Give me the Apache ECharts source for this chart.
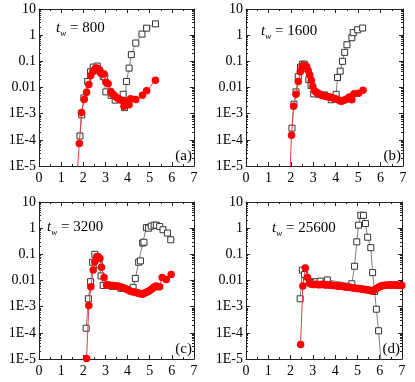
<!DOCTYPE html>
<html><head><meta charset="utf-8">
<script src="https://cdn.jsdelivr.net/npm/echarts@6/dist/echarts.min.js"></script>
<style>html,body{margin:0;padding:0;background:#fff}#c{width:415px;height:382px}</style>
</head><body><div id="c"></div>
<script>
// ---- data ----
const xTicks = [0,1,2,3,4,5,6,7];
const yTickLabels = ['1E-5','1E-4','1E-3','0.01','0.1','1','10'];
const panelNames = ['(a)','(b)','(c)','(d)'];
const twValues = ['800','1600','3200','25600'];

const squaresA = [[1.85,1.4e-4],[1.93,9e-4],[2.03,4e-3],[2.2,0.017],[2.33,0.04],[2.45,0.06],[2.63,0.066],[2.75,0.042],[2.9,0.026],[2.97,0.025],[3.02,0.0068],[3.26,0.005],[3.44,0.0033],[3.8,0.0055],[3.86,0.0017],[3.95,0.017],[4.07,0.055],[4.17,0.18],[4.37,0.5],[4.65,1.1],[4.86,1.85],[5.26,2.7]];
const circlesA = [[1.66,1e-6],[1.82,7.2e-5],[1.92,1.1e-3],[2.04,3.5e-3],[2.15,6.6e-3],[2.25,0.013],[2.33,0.028],[2.43,0.04],[2.49,0.047],[2.56,0.056],[2.64,0.055],[2.72,0.049],[2.79,0.035],[2.86,0.033],[2.94,0.033],[3.02,0.016],[3.12,0.014],[3.24,0.007],[3.3,0.0058],[3.37,0.0052],[3.45,0.0045],[3.53,0.004],[3.6,0.0036],[3.68,0.0033],[3.77,0.0032],[3.84,0.0019],[3.95,0.003],[4.07,0.0022],[4.14,0.0037],[4.37,0.0035],[4.67,0.0051],[4.86,0.0075],[5.26,0.019]];

const squaresB = [[2.05,2.8e-4],[2.14,2.3e-3],[2.23,6.8e-3],[2.33,0.026],[2.43,0.06],[2.52,0.078],[2.6,0.078],[2.7,0.055],[2.8,0.02],[2.9,0.012],[3.02,0.0057],[3.25,0.0055],[3.5,0.0052],[3.8,0.0034],[4.02,0.0055],[4.08,0.024],[4.2,0.042],[4.3,0.1],[4.4,0.22],[4.5,0.43],[4.72,0.8],[4.78,1.25],[4.98,1.6],[5.2,1.87]];
const circlesB = [[1.92,1e-6],[2.03,1.5e-4],[2.12,1.9e-3],[2.23,5.5e-3],[2.33,0.017],[2.42,0.04],[2.5,0.063],[2.57,0.07],[2.63,0.068],[2.7,0.063],[2.77,0.045],[2.84,0.03],[2.91,0.019],[2.98,0.011],[3.06,0.0075],[3.14,0.0065],[3.22,0.006],[3.3,0.0055],[3.38,0.005],[3.46,0.0048],[3.54,0.0046],[3.62,0.0045],[3.7,0.0043],[3.78,0.0042],[3.86,0.004],[3.94,0.0038],[4.02,0.0036],[4.1,0.0034],[4.18,0.0031],[4.26,0.003],[4.34,0.0032],[4.42,0.0034],[4.5,0.0036],[4.6,0.0043],[4.72,0.0034],[4.82,0.0058],[5.02,0.006],[5.22,0.0078]];

const squaresC = [[2.13,1.5e-4],[2.23,2e-3],[2.33,9e-3],[2.42,0.05],[2.52,0.1],[2.62,0.08],[2.72,0.04],[2.8,0.015],[2.9,0.0065],[3.3,0.006],[3.7,0.005],[4.05,0.0045],[4.25,0.0055],[4.35,0.012],[4.5,0.05],[4.58,0.056],[4.68,0.27],[4.74,0.29],[4.85,1.05],[4.95,1.0],[5.07,1.2],[5.2,1.3],[5.3,1.3],[5.45,1.15],[5.6,0.87],[5.8,0.65],[5.95,0.36]];
const circlesC = [[2.15,1.05e-5],[2.25,1.1e-3],[2.34,5.8e-3],[2.45,0.025],[2.52,0.052],[2.6,0.075],[2.67,0.083],[2.75,0.07],[2.82,0.032],[2.94,0.013],[3.05,0.0068],[3.12,0.0067],[3.19,0.0066],[3.26,0.0065],[3.33,0.0064],[3.4,0.0063],[3.47,0.0062],[3.54,0.0061],[3.61,0.0059],[3.68,0.0057],[3.75,0.0055],[3.82,0.0052],[3.89,0.0049],[3.96,0.0046],[4.03,0.0043],[4.1,0.004],[4.17,0.0038],[4.24,0.0037],[4.31,0.0036],[4.38,0.0035],[4.45,0.0034],[4.52,0.0032],[4.59,0.0031],[4.66,0.003],[4.73,0.0032],[4.8,0.0034],[4.87,0.0036],[4.94,0.0038],[5.01,0.0042],[5.08,0.0046],[5.15,0.0052],[5.22,0.0058],[5.29,0.0062],[5.36,0.0058],[5.45,0.0058],[5.56,0.013],[5.75,0.011],[5.97,0.017]];

const squaresD = [[2.43,2e-3],[2.53,0.025],[2.63,0.017],[2.72,0.01],[2.85,0.009],[3.0,0.0085],[3.15,0.009],[3.33,0.0095],[3.65,0.0105],[4.75,0.0075],[4.87,0.035],[4.97,0.3],[5.05,1.3],[5.15,3.1],[5.27,3.1],[5.36,1.5],[5.46,0.45],[5.6,0.18],[5.68,0.02],[5.77,0.0038],[5.85,8e-4],[5.95,1.2e-4],[6.14,1e-6]];
const circlesD = [[2.45,3.6e-5],[2.55,6.2e-3],[2.66,0.03],[2.76,0.013],[2.85,0.0078],[2.91,0.0074],[2.97,0.0072],[3.03,0.0071],[3.09,0.007],[3.15,0.0072],[3.21,0.007],[3.27,0.0069],[3.33,0.0071],[3.39,0.007],[3.45,0.0072],[3.51,0.0069],[3.57,0.0068],[3.63,0.007],[3.69,0.0068],[3.75,0.0067],[3.81,0.0066],[3.87,0.0066],[3.93,0.0065],[3.99,0.0064],[4.05,0.0063],[4.11,0.0062],[4.17,0.0062],[4.23,0.0061],[4.29,0.006],[4.35,0.0059],[4.41,0.0058],[4.47,0.0057],[4.53,0.0056],[4.59,0.0055],[4.65,0.0055],[4.71,0.0054],[4.77,0.0053],[4.83,0.0052],[4.89,0.0051],[4.95,0.005],[5.01,0.005],[5.07,0.0049],[5.13,0.0048],[5.19,0.0047],[5.25,0.0046],[5.31,0.0045],[5.37,0.0045],[5.43,0.0044],[5.49,0.0043],[5.55,0.0042],[5.61,0.0041],[5.67,0.004],[5.73,0.0042],[5.79,0.0045],[5.85,0.0048],[5.91,0.0052],[5.97,0.0056],[6.03,0.006],[6.09,0.0062],[6.15,0.0064],[6.21,0.0065],[6.27,0.0066],[6.33,0.0066],[6.39,0.0067],[6.45,0.0067],[6.51,0.0068],[6.57,0.0067],[6.63,0.0067],[6.69,0.0068],[6.75,0.0067],[6.81,0.0066],[6.87,0.0066],[6.93,0.0065],[6.99,0.0065]];

const squareSets = [squaresA, squaresB, squaresC, squaresD];
const circleSets = [circlesA, circlesB, circlesC, circlesD];

// ---- layout ----
const grids = [
  {left:39, top:9, width:155, height:157},
  {left:246, top:9, width:157, height:157},
  {left:39, top:202, width:155, height:157},
  {left:246, top:202, width:156, height:157}
];
const twPos = [[56,30],[261,33],[47,229],[272,230]];
const FONT = 'Liberation Serif';
const axisLineStyle = {color:'#222', width:1};

const xAxes = [], yAxes = [], series = [], graphics = [];
grids.forEach((g, i) => {
  const common = {gridIndex:i, min:0, max:7, interval:1, type:'value',
    axisLine:{show:true, onZero:false, lineStyle:axisLineStyle},
    axisTick:{show:true, inside:true, length:4, lineStyle:axisLineStyle},
    minorTick:{show:true, splitNumber:2, length:2, lineStyle:axisLineStyle},
    splitLine:{show:false}};
  xAxes.push(Object.assign({}, common, {position:'bottom',
    axisLabel:{show:true, color:'#000', fontFamily:FONT, fontSize:14, margin:5,
      formatter: v => xTicks.includes(v) ? String(v) : ''}}));
  xAxes.push(Object.assign({}, common, {position:'top', axisLabel:{show:false}}));
  const ycommon = {gridIndex:i, type:'log', logBase:10, min:1e-5, max:10, splitNumber:6,
    axisLine:{show:true, onZero:false, lineStyle:axisLineStyle},
    axisTick:{show:true, inside:true, length:4, lineStyle:axisLineStyle},
    minorTick:{show:true, splitNumber:9, length:2, lineStyle:axisLineStyle},
    splitLine:{show:false}};
  yAxes.push(Object.assign({}, ycommon, {position:'left',
    axisLabel:{show:true, color:'#000', fontFamily:FONT, fontSize:14, margin:3,
      formatter: v => { const k = Math.round(Math.log10(v)) + 5; return yTickLabels[k] || ''; }}}));
  yAxes.push(Object.assign({}, ycommon, {position:'right', axisLabel:{show:false}}));

  series.push({type:'line', xAxisIndex:2*i, yAxisIndex:2*i, data:squareSets[i],
    symbol:'rect', symbolSize:6, clip:true, z:2,
    lineStyle:{color:'#808080', width:1},
    itemStyle:{color:'#fff', borderColor:'#333', borderWidth:1}});
  series.push({type:'line', xAxisIndex:2*i, yAxisIndex:2*i, data:circleSets[i],
    symbol:'circle', symbolSize:7.5, clip:true, z:3,
    lineStyle:{color:'#e04040', width:1},
    itemStyle:{color:'#ff0000', borderWidth:0}});

  graphics.push({type:'text', left:twPos[i][0], top:twPos[i][1]-9, z:10,
    style:{text:'{i|t}{s|w}{n| = ' + twValues[i] + '}', fill:'#000',
      rich:{i:{fontFamily:FONT, fontStyle:'italic', fontSize:15, fill:'#000'},
            s:{fontFamily:FONT, fontStyle:'italic', fontSize:9, fill:'#000', padding:[10,0,0,0]},
            n:{fontFamily:FONT, fontSize:15, fill:'#000'}}}});
  graphics.push({type:'text', right: 415 - (g.left + g.width) + 2, top: g.top + g.height - 17, z:10,
    style:{text:panelNames[i], fill:'#000', font:'15px "' + FONT + '"'}});
});

const chart = echarts.init(document.getElementById('c'), null, {renderer:'canvas'});
chart.setOption({
  animation:false, backgroundColor:'#fff',
  grid: grids.map(g => Object.assign({containLabel:false}, g)),
  xAxis: xAxes, yAxis: yAxes, series: series, graphic: graphics
});
</script></body></html>
